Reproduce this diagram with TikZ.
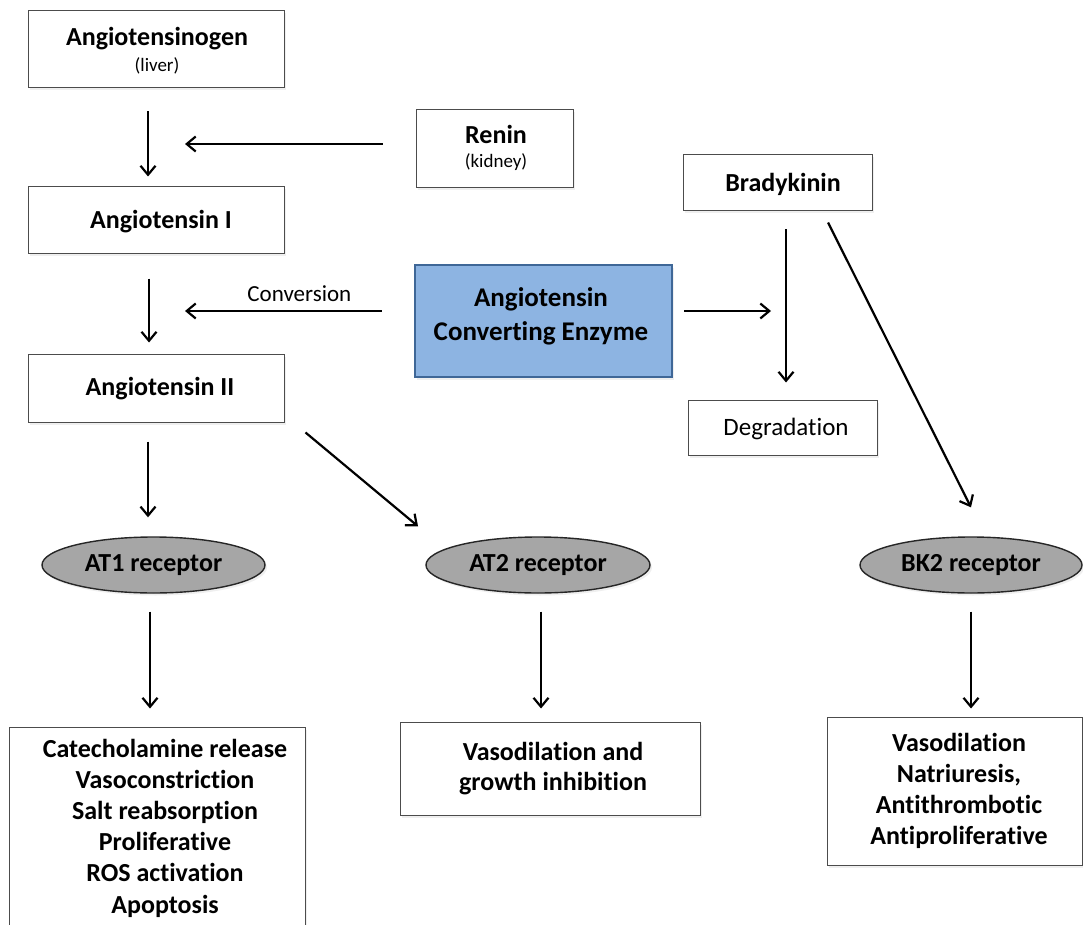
\documentclass[tikz,border=0pt]{standalone}
\usepackage{fontspec}
\setmainfont[Ligatures=NoCommon]{Carlito}
\usetikzlibrary{arrows.meta,shapes.geometric,shadows}
\definecolor{aceblue}{HTML}{8DB4E2}
\definecolor{aceborder}{HTML}{3F6797}
\definecolor{recgray}{HTML}{A6A6A6}
\begin{document}
\begin{tikzpicture}[x=1pt,y=-1pt,
  box/.style={draw=black!70, line width=1pt, fill=white, rectangle, inner sep=0pt,
    drop shadow={shadow xshift=2pt, shadow yshift=-2.5pt, opacity=0.12}},
  acebox/.style={draw=aceborder, line width=2.6pt, fill=aceblue, rectangle, inner sep=0pt,
    drop shadow={shadow xshift=2pt, shadow yshift=-2.5pt, opacity=0.12}},
  rec/.style={draw=black!85, line width=1.4pt, fill=recgray, ellipse, inner sep=0pt,
    minimum width=223pt, minimum height=56pt, font=\fontsize{26}{31}\selectfont\bfseries,
    drop shadow={shadow xshift=2pt, shadow yshift=-2.5pt, opacity=0.12}},
  bold/.style={inner sep=0pt, align=center, font=\fontsize{26}{31}\selectfont\bfseries},
  small/.style={inner sep=0pt, align=center, font=\fontsize{19}{23}\selectfont},
  plain/.style={inner sep=0pt, align=center, font=\fontsize{25}{30}\selectfont},
  arr/.style={line width=2.2pt, -{Straight Barb[length=9pt,width=15pt]}}
]
\useasboundingbox[fill=white] (0,0) rectangle (1083,925);

% boxes
\node[box, minimum width=256pt, minimum height=77pt] (ag) at (156,49.5) {};
\node[box, minimum width=157pt, minimum height=78pt] (renin) at (494.5,149) {};
\node[box, minimum width=256pt, minimum height=66pt] (a1) at (156,220) {};
\node[acebox, minimum width=257pt, minimum height=112pt] (ace) at (543.5,321) {};
\node[box, minimum width=256pt, minimum height=68pt] (a2) at (156,388) {};
\node[box, minimum width=189pt, minimum height=56pt] (bk) at (777.5,183) {};
\node[box, minimum width=189pt, minimum height=55pt] (deg) at (782.5,427.5) {};
\node[rec] (at1) at (153.5,565) {AT1 receptor};
\node[rec, minimum width=224pt] (at2) at (538,565) {AT2 receptor};
\node[rec, minimum width=222pt] (bk2) at (971,565) {BK2 receptor};
\node[box, minimum width=296pt, minimum height=200pt] (eff1) at (157,827) {};
\node[box, minimum width=300pt, minimum height=93pt] (eff2) at (550,768.5) {};
\node[box, minimum width=255pt, minimum height=148pt] (eff3) at (954.5,791) {};

% texts
\node[bold] (tag) at (157,39) {Angiotensinogen};
\node[small] (tliver) at (157,66) {(liver)};
\node[bold] (tren) at (496,134) {Renin};
\node[small] (tkid) at (496,162) {(kidney)};
\node[bold] (ta1) at (161,222) {Angiotensin I};
\node[bold, font=\fontsize{27}{34}\selectfont\bfseries] (tace) at (541,316) {Angiotensin\\Converting Enzyme};
\node[bold] (ta2) at (160,389) {Angiotensin II};
\node[bold] (tbk) at (783,184) {Bradykinin};
\node[plain] (tdeg) at (786,429) {Degradation};
\node[bold, font=\fontsize{26}{31.2}\selectfont\bfseries] (teff1) at (165,828)
  {Catecholamine release\\Vasoconstriction\\Salt reabsorption\\Proliferative\\ROS activation\\Apoptosis};
\node[bold, font=\fontsize{26}{30}\selectfont\bfseries] (teff2) at (553,769) {Vasodilation and\\growth inhibition};
\node[bold] (teff3) at (959,790.5) {Vasodilation\\Natriuresis,\\Antithrombotic\\Antiproliferative};

% free ends
\coordinate (reninend) at (185,144);
\coordinate (convend) at (185,311);
\coordinate (degend) at (771,311);

% connectors
\draw[arr, shorten <=23pt, shorten >=10pt] ([xshift=-8pt]ag.south) -- ([xshift=-8pt]a1.north);
\draw[arr, shorten <=33pt] ([yshift=5pt]renin.west) -- (reninend);
\draw[arr, shorten <=25pt, shorten >=11pt] ([xshift=-7pt]a1.south) -- ([xshift=-7pt]a2.north);
\draw[arr, shorten <=32pt] ([yshift=10pt]ace.west) -- (convend)
  node[pos=0.5, above=8pt, inner sep=0pt, font=\fontsize{23}{27}\selectfont] (conv) {Conversion};
\draw[arr, shorten <=11pt] ([yshift=10pt]ace.east) -- (degend);
\draw[arr, shorten <=18pt, shorten >=17pt] ([xshift=8.5pt]bk.south) -- ([xshift=3.5pt]deg.north);
\draw[arr, shorten <=12.3pt, shorten >=32.4pt] ([xshift=45pt]bk.south) -- ([xshift=14.5pt]bk2.north);
\draw[arr, shorten <=19pt, shorten >=19pt] ([xshift=-8pt]a2.south) -- ([xshift=-5.5pt]at1.north);
\draw[arr, shorten <=15.6pt, shorten >=15.6pt] ([xshift=9pt]a2.south east) -- ([xshift=-108pt]at2.north);
\draw[arr, shorten <=18pt, shorten >=18pt] ([xshift=-3.5pt]at1.south) -- ([xshift=-7pt]eff1.north);
\draw[arr, shorten <=18pt, shorten >=13pt] ([xshift=3pt]at2.south) -- ([xshift=-9pt]eff2.north);
\draw[arr, shorten <=18pt, shorten >=8pt] (bk2.south) -- ([xshift=16.5pt]eff3.north);
\end{tikzpicture}
\end{document}
